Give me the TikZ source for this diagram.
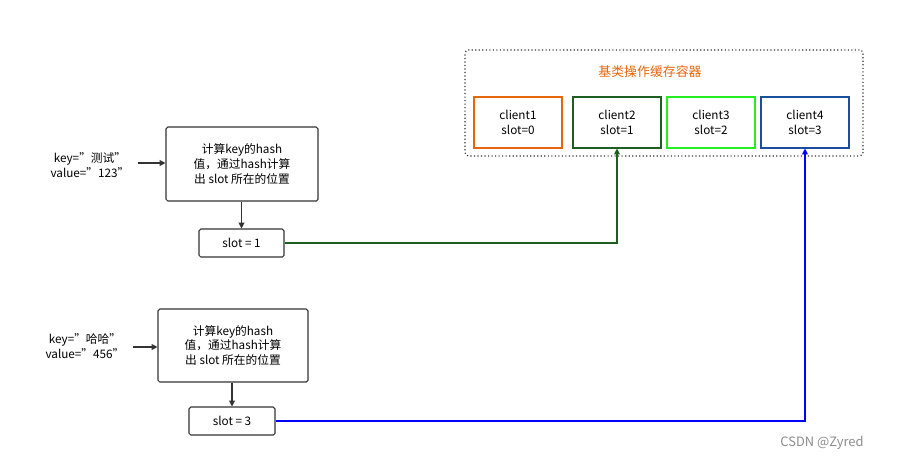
\documentclass[tikz,border=0pt]{standalone}
\usepackage{fontspec}
\setmainfont{Noto Sans CJK SC}
\usetikzlibrary{arrows.meta}
\definecolor{dg}{HTML}{1E5E20}
\definecolor{og}{HTML}{E8650A}
\definecolor{bg}{HTML}{22EE22}
\definecolor{bl}{HTML}{1A4FA0}
\begin{document}
\begin{tikzpicture}[x=0.03cm,y=-0.03cm,
  box/.style={draw=#1,line width=0.9pt,rounded corners=1.5pt,align=center,font=\fontsize{10}{12.5}\selectfont,inner sep=0pt},
  lbl/.style={align=center,font=\fontsize{10}{12.5}\selectfont},
  arr/.style={-{Triangle[length=5pt,width=5pt]},line width=0.9pt}]
\useasboundingbox (0,0) rectangle (897,463);
\node[draw=black!80,dotted,line width=1pt,rounded corners=3pt,minimum width=398*0.03cm,minimum height=106*0.03cm] (cont) at (664,103) {};
\node[text=og,font=\fontsize{11}{13}\selectfont] (title) at (650,72) {基类操作缓存容器};
\foreach \n/\x/\c/\s in {1/518/og/0,2/617/dg/1,3/711/bg/2,4/805/bl/3}
  \node[box=\c,minimum width=88*0.03cm,minimum height=51*0.03cm,rounded corners=0pt] (c\n) at (\x,122.5) {client\n\\slot=\s};
\node[lbl] (k1) at (90,165) {key="测试"\\value="123"};
\node[box=black!80,minimum width=152*0.03cm,minimum height=74*0.03cm] (b1) at (242,164) {计算key的hash\\值，通过hash计算\\出 slot 所在的位置};
\node[box=black!80,minimum width=85*0.03cm,minimum height=28*0.03cm] (s1) at (241.5,243) {slot = 1};
\node[lbl] (k2) at (85,346) {key="哈哈"\\value="456"};
\node[box=black!80,minimum width=150*0.03cm,minimum height=73*0.03cm] (b2) at (233,345.5) {计算key的hash\\值，通过hash计算\\出 slot 所在的位置};
\node[box=black!80,minimum width=86*0.03cm,minimum height=28*0.03cm] (s2) at (232,421) {slot = 3};
\draw[arr,black!80] (k1.east)+(4,-2) coordinate (a1) -- (a1-|b1.west);
\draw[arr,black!80] (b1.south-|s1.north) -- (s1.north);
\draw[arr,black!80] (k2.east)+(4,1) coordinate (a2) -- (a2-|b2.west);
\draw[arr,black!80] (b2.south-|s2.north) -- (s2.north);
\draw[arr,dg] (s1.east) -| (c2.south);
\draw[arr,blue] (s2.east) -| (c4.south);
\node[text=black!45,font=\fontsize{11}{13}\selectfont] (wm) at (822,443) {CSDN @Zyred};
\end{tikzpicture}
\end{document}
